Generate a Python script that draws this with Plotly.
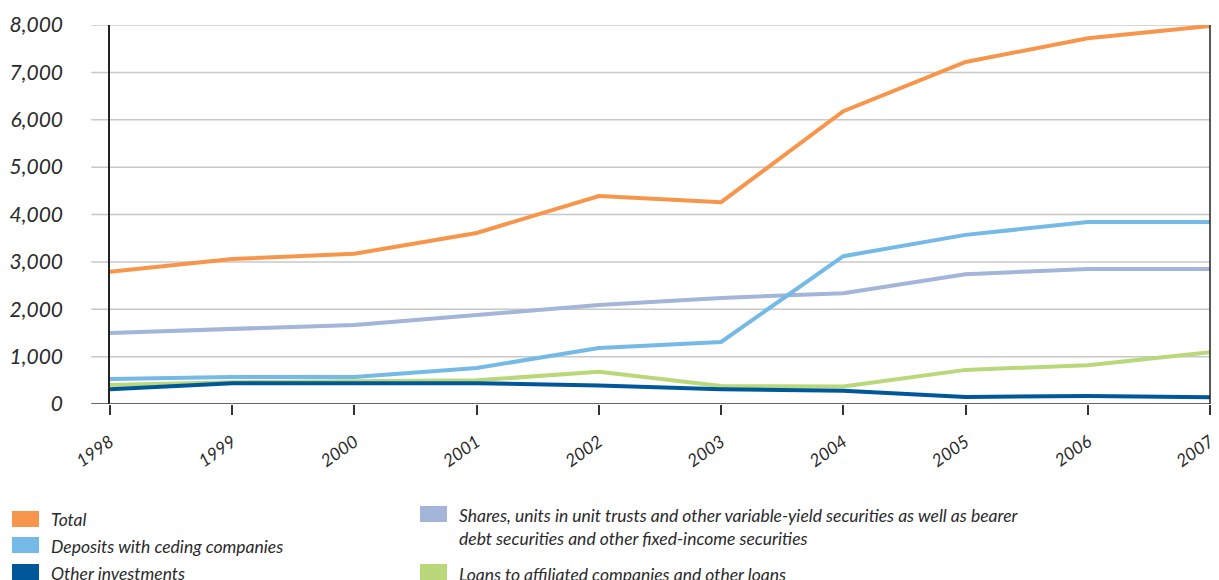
import plotly.graph_objects as go

# Investments by category, 1998-2007
years = [1998, 1999, 2000, 2001, 2002, 2003, 2004, 2005, 2006, 2007]
total = [2790, 3060, 3170, 3610, 4390, 4260, 6180, 7220, 7720, 7980]
shares = [1500, 1580, 1670, 1880, 2090, 2240, 2340, 2740, 2850, 2850]
deposits = [530, 570, 570, 760, 1180, 1310, 3120, 3570, 3840, 3840]
loans = [400, 460, 480, 500, 680, 380, 370, 720, 820, 1090]
other = [310, 440, 440, 440, 390, 310, 280, 150, 170, 140]

y_ticks = [0, 1000, 2000, 3000, 4000, 5000, 6000, 7000, 8000]
y_labels = ["0", "1,000", "2,000", "3,000", "4,000", "5,000", "6,000", "7,000", "8,000"]

names = {
    "total": "Total",
    "deposits": "Deposits with ceding companies",
    "other": "Other investments",
    "shares": "Shares, units in unit trusts and other variable-yield securities as well as bearer<br>debt securities and other fixed-income securities",
    "loans": "Loans to affiliated companies and other loans",
}
colors = {
    "total": "#F7964A",
    "deposits": "#75BAE6",
    "other": "#00589A",
    "shares": "#A3B5D8",
    "loans": "#B9D87A",
}

FONT = "Lato"
TEXT = "#2a2a2a"

fig = go.Figure()
for key, vals in [("total", total), ("shares", shares), ("deposits", deposits),
                  ("loans", loans), ("other", other)]:
    fig.add_trace(go.Scatter(x=years, y=vals, mode="lines", name=names[key],
                             line=dict(color=colors[key], width=4),
                             showlegend=False))

shapes = []
# horizontal gridlines, extending slightly left of the value axis
for v in y_ticks[1:]:
    shapes.append(dict(type="line", xref="paper", yref="y", x0=-0.017, x1=1,
                       y0=v, y1=v, line=dict(color="#c8c8c8", width=1.5),
                       layer="below"))
# baseline
shapes.append(dict(type="line", xref="paper", yref="y", x0=-0.017, x1=1,
                   y0=0, y1=0, line=dict(color="#333333", width=1.5)))
# right border
shapes.append(dict(type="line", xref="paper", yref="paper", x0=1, x1=1,
                   y0=0, y1=1, line=dict(color="#222222", width=1.5)))

# legend swatches and labels
PLOT_L, PLOT_W, PLOT_B, PLOT_H = 110, 1100, 404, 379


def px_x(x):
    return (x - PLOT_L) / PLOT_W


def px_y(y):
    return (PLOT_B - y) / PLOT_H


legend_items = [
    ("total", 12, 511, 519),
    ("deposits", 12, 537, 546),
    ("other", 12, 564, 573),
    ("shares", 420, 506, 527),
    ("loans", 420, 564, 574),
]
annotations = []
for key, sx, sy, ty in legend_items:
    shapes.append(dict(type="rect", xref="paper", yref="paper",
                       x0=px_x(sx), x1=px_x(sx + 27), y0=px_y(sy), y1=px_y(sy + 16),
                       fillcolor=colors[key], line=dict(width=0)))
    annotations.append(dict(xref="paper", yref="paper", x=px_x(sx + 37), y=px_y(ty),
                            text=names[key], showarrow=False, xanchor="left",
                            yanchor="middle", align="left",
                            font=dict(family=FONT, size=17.5, color=TEXT, style="italic")))

fig.update_layout(
    width=1219, height=580,
    margin=dict(l=110, r=9, t=25, b=176),
    plot_bgcolor="white", paper_bgcolor="white",
    xaxis=dict(range=[1998, 2007], tickvals=years, ticktext=[str(y) for y in years],
               tickangle=-35, ticks="outside", ticklen=10, tickcolor="#333333",
               tickwidth=1.5, showgrid=False, zeroline=False, showline=False,
               automargin=False, ticklabelstandoff=10,
               tickfont=dict(family=FONT, size=17.5, color=TEXT, style="italic")),
    yaxis=dict(range=[0, 8000], tickvals=y_ticks, ticktext=y_labels,
               showgrid=False, zeroline=False, showline=True, linecolor="#222222",
               linewidth=1.5, ticks="", ticklabelstandoff=41, automargin=False,
               tickfont=dict(family=FONT, size=21, color=TEXT, style="italic")),
    shapes=shapes,
    annotations=annotations,
)

fig.write_html("out.html")
